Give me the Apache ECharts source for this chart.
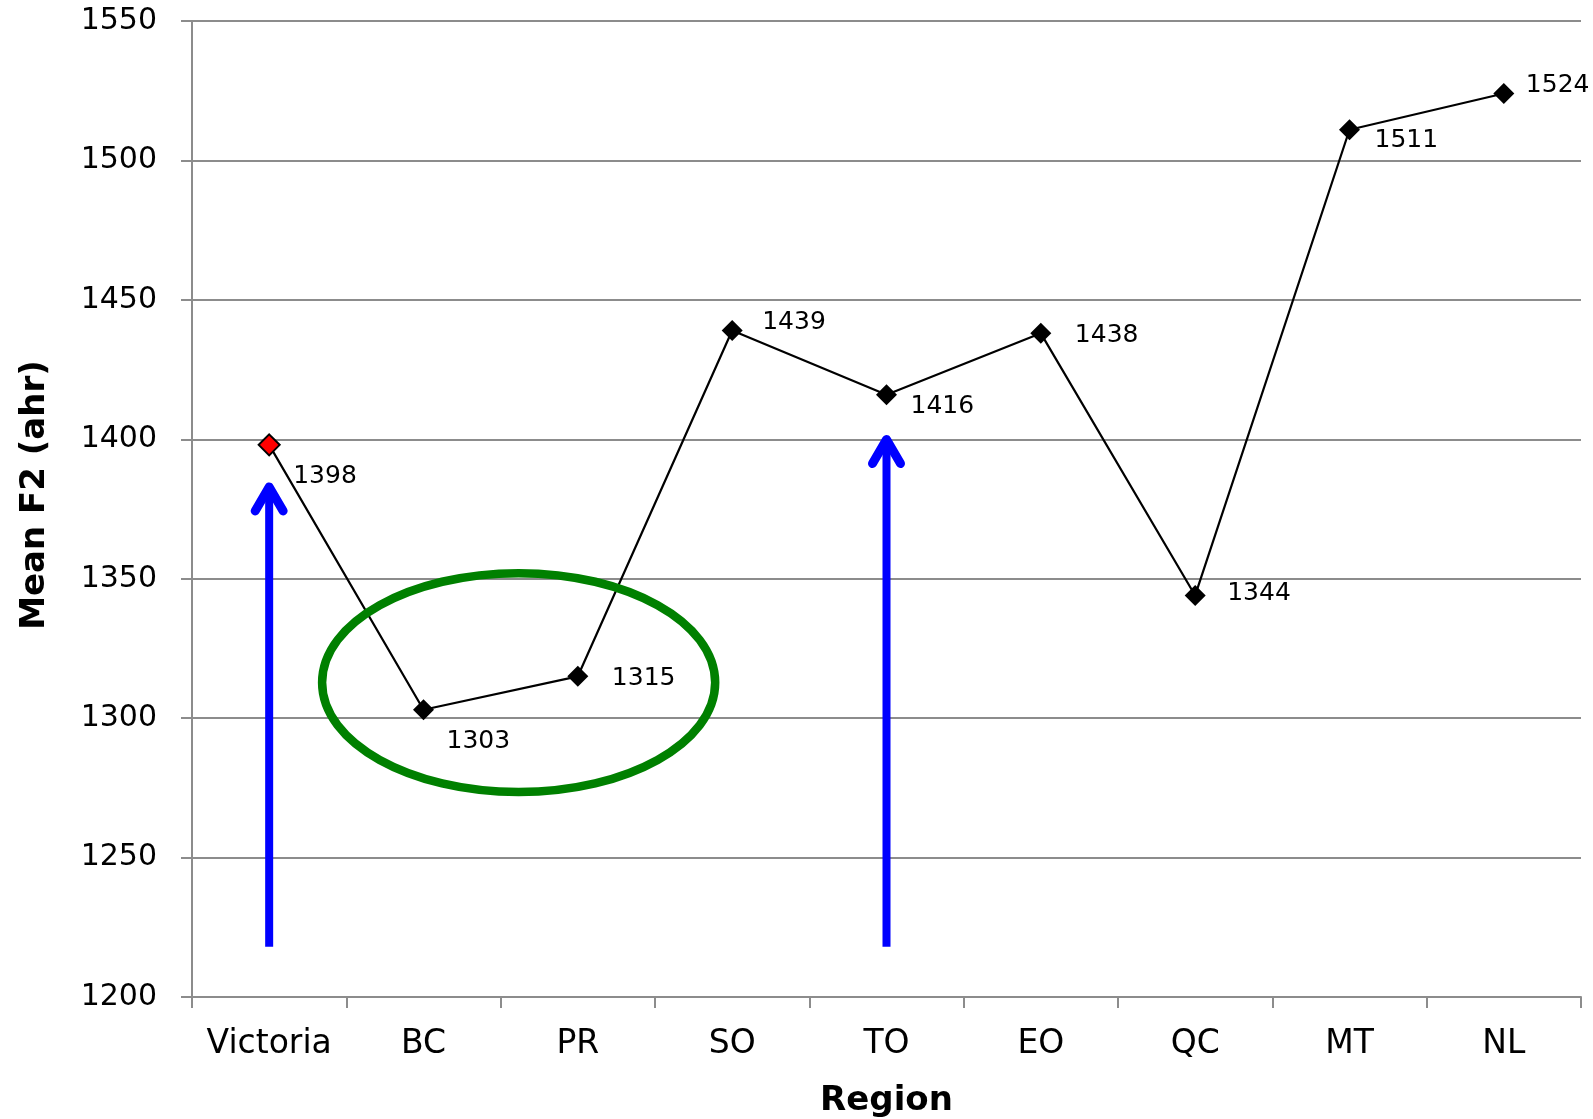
<!DOCTYPE html>
<html>
<head>
<meta charset="utf-8">
<title>Mean F2 by Region</title>
<script src="https://cdn.jsdelivr.net/npm/echarts@6/dist/echarts.min.js"></script>
<style>
  html, body { margin: 0; padding: 0; background: #ffffff; overflow: hidden; }
  #chart { width: 1593px; height: 1119px; }
</style>
</head>
<body>
<div id="chart"></div>
<script>
// Regions along the x axis and the mean F2 value (ahr) for each
const regions = ['Victoria', 'BC', 'PR', 'SO', 'TO', 'EO', 'QC', 'MT', 'NL'];
const meanF2 = [1398, 1303, 1315, 1439, 1416, 1438, 1344, 1511, 1524];

// Value axis range
const yMin = 1200;
const yMax = 1550;
const yStep = 50;

// Region drawn in red
const highlightRegion = 'Victoria';

// Label nudges per point [dx, dy] in px (layout only)
const labelNudge = [[23, 32], [23, 32], [34, 2], [30, -8], [24, 12], [34, 2], [32, -2], [25, 11], [22, -8]];

// Annotation arrows: region, start value, tip value
const arrowNotes = [
  { region: 'Victoria', from: 1218, to: 1384 },
  { region: 'TO', from: 1218, to: 1401 }
];

// Ellipse around BC / PR: category-index span and value span
const ringNote = { xFrom: 0.343, xTo: 2.89, yFrom: 1273.5, yTo: 1352 };

const FONT = '"DejaVu Sans", "Noto Sans", sans-serif';
const SYM = 21;

const chart = echarts.init(document.getElementById('chart'), null, { renderer: 'canvas' });

const seriesData = meanF2.map((v, i) => ({
  value: v,
  itemStyle: regions[i] === highlightRegion
    ? { color: '#ff0000', borderColor: '#000000', borderWidth: 2 }
    : { color: '#000000', borderWidth: 0 },
  label: { offset: [labelNudge[i][0] - SYM / 2, labelNudge[i][1]] }
}));

chart.setOption({
  animation: false,
  backgroundColor: '#ffffff',
  grid: { left: 192, top: 21, right: 12, bottom: 122, containLabel: false, outerBoundsMode: 'none' },
  xAxis: {
    type: 'category',
    data: regions,
    boundaryGap: true,
    name: 'Region',
    nameLocation: 'middle',
    nameGap: 87,
    nameTextStyle: { fontFamily: FONT, fontSize: 34, fontWeight: 'bold', color: '#000000' },
    axisLine: { lineStyle: { color: '#8c8c8c', width: 2 } },
    axisTick: { show: true, alignWithLabel: false, interval: 0, length: 11, lineStyle: { color: '#8c8c8c', width: 2 } },
    axisLabel: { interval: 0, margin: 31, fontFamily: FONT, fontSize: 33, color: '#000000' },
    splitLine: { show: false }
  },
  yAxis: {
    type: 'value',
    min: yMin,
    max: yMax,
    interval: yStep,
    name: 'Mean F2 (ahr)',
    nameLocation: 'middle',
    nameGap: 140,
    nameTextStyle: { fontFamily: FONT, fontSize: 34, fontWeight: 'bold', color: '#000000', padding: [0, 0, 0, 28] },
    axisLine: { show: true, lineStyle: { color: '#8c8c8c', width: 2 } },
    axisTick: { show: true, length: 11, lineStyle: { color: '#8c8c8c', width: 2 } },
    axisLabel: { margin: 35, fontFamily: FONT, fontSize: 30, color: '#000000', formatter: v => String(v) },
    splitLine: { show: true, lineStyle: { color: '#8c8c8c', width: 2 } }
  },
  series: [{
    type: 'line',
    data: seriesData,
    symbol: 'diamond',
    symbolSize: SYM,
    lineStyle: { color: '#000000', width: 2.2 },
    itemStyle: { color: '#000000' },
    label: {
      show: true,
      position: 'right',
      distance: 0,
      fontFamily: FONT,
      fontSize: 25,
      color: '#000000'
    },
    z: 3
  }]
});

// Pixel helpers on top of the chart's own scales
function px(catIndex, value) {
  const i0 = Math.floor(catIndex);
  const a = chart.convertToPixel({ gridIndex: 0 }, [i0, value]);
  const b = chart.convertToPixel({ gridIndex: 0 }, [i0 + 1, value]);
  const f = catIndex - i0;
  return [a[0] + (b[0] - a[0]) * f, a[1]];
}

const graphics = [];

arrowNotes.forEach(n => {
  const idx = regions.indexOf(n.region);
  const base = px(idx, n.from);
  const tip = px(idx, n.to);
  const blue = '#0000ff';
  graphics.push({
    type: 'line',
    shape: { x1: base[0], y1: base[1], x2: tip[0], y2: tip[1] + 4 },
    style: { stroke: blue, lineWidth: 8, lineCap: 'butt' },
    z: 10
  });
  graphics.push({
    type: 'polyline',
    shape: { points: [[tip[0] - 14, tip[1] + 27], [tip[0], tip[1] + 3], [tip[0] + 14, tip[1] + 27]] },
    style: { stroke: blue, lineWidth: 9, lineCap: 'round', lineJoin: 'round', fill: null },
    z: 10
  });
});

{
  const tl = px(ringNote.xFrom, ringNote.yTo);
  const br = px(ringNote.xTo, ringNote.yFrom);
  graphics.push({
    type: 'ellipse',
    shape: {
      cx: (tl[0] + br[0]) / 2,
      cy: (tl[1] + br[1]) / 2,
      rx: (br[0] - tl[0]) / 2,
      ry: (br[1] - tl[1]) / 2
    },
    style: { fill: null, stroke: '#008000', lineWidth: 8.5 },
    z: 10
  });
}

chart.setOption({ graphic: graphics });
</script>
</body>
</html>
